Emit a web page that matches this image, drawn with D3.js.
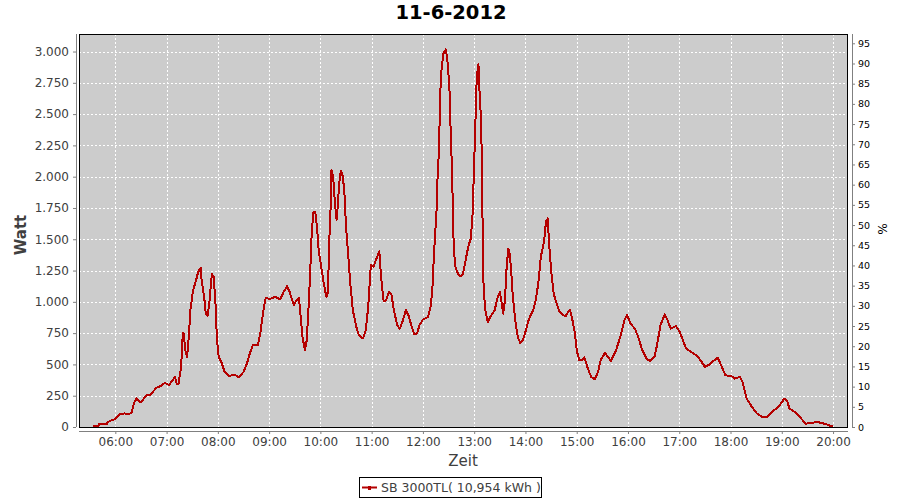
<!DOCTYPE html>
<html>
<head>
<meta charset="utf-8">
<script src="https://cdn.jsdelivr.net/npm/d3@7"></script>
<style>
  html, body { margin: 0; padding: 0; background: #fff; }
  svg { display: block; font-family: "DejaVu Sans", sans-serif; }
</style>
</head>
<body>
<svg id="chart" width="900" height="500"></svg>
<script>
const chartTitle = "11-6-2012";
const seriesName = "SB 3000TL( 10,954 kWh )";
const times = ["05:34","05:40","05:41","05:50","05:51","05:55","06:00","06:05","06:11","06:15","06:19","06:22","06:25","06:30","06:36","06:41","06:48","06:53","06:58","07:03","07:10","07:12","07:14","07:17","07:19","07:20","07:22","07:24","07:26","07:28","07:31","07:34","07:37","07:40","07:41","07:44","07:46","07:48","07:50","07:52","07:53","07:55","07:57","07:59","08:01","08:04","08:08","08:13","08:19","08:25","08:30","08:34","08:38","08:41","08:47","08:50","08:53","08:56","09:01","09:07","09:13","09:17","09:21","09:24","09:29","09:32","09:35","09:37","09:39","09:42","09:44","09:46","09:48","09:50","09:52","09:54","09:56","09:58","10:01","10:04","10:07","10:09","10:10","10:12","10:13","10:15","10:17","10:19","10:20","10:22","10:24","10:26","10:28","10:30","10:33","10:35","10:38","10:42","10:45","10:50","10:53","10:56","10:59","11:02","11:05","11:09","11:11","11:14","11:17","11:20","11:23","11:26","11:30","11:33","11:36","11:40","11:43","11:47","11:50","11:53","11:56","12:00","12:06","12:09","12:11","12:13","12:14","12:16","12:17","12:19","12:20","12:22","12:24","12:27","12:29","12:31","12:32","12:33","12:34","12:35","12:36","12:38","12:41","12:44","12:47","12:50","12:53","12:56","12:58","13:00","13:02","13:03","13:05","13:06","13:08","13:09","13:10","13:11","13:13","13:16","13:20","13:24","13:27","13:30","13:32","13:34","13:36","13:38","13:40","13:41","13:43","13:45","13:48","13:51","13:54","13:57","14:00","14:03","14:06","14:09","14:12","14:15","14:18","14:22","14:24","14:26","14:28","14:30","14:33","14:36","14:40","14:44","14:47","14:52","14:55","14:58","15:00","15:03","15:07","15:09","15:13","15:17","15:21","15:25","15:28","15:33","15:40","15:46","15:51","15:56","15:59","16:03","16:08","16:12","16:16","16:22","16:26","16:31","16:34","16:38","16:43","16:46","16:50","16:56","17:00","17:04","17:08","17:14","17:20","17:25","17:30","17:36","17:40","17:45","17:49","17:54","18:01","18:05","18:11","18:14","18:19","18:25","18:31","18:37","18:43","18:49","18:56","18:59","19:03","19:06","19:09","19:15","19:21","19:28","19:35","19:41","19:47","19:53","19:59","20:00"];
const watts = [5,5,24,24,37,53,64,101,109,101,112,192,229,195,251,259,312,328,352,336,400,341,347,480,752,750,613,560,720,939,1093,1159,1239,1274,1173,1039,899,890,987,1146,1221,1205,1026,693,560,520,440,405,419,397,440,507,600,653,656,760,920,1031,1023,1039,1021,1079,1125,1079,973,1013,1031,879,720,613,693,933,1226,1573,1719,1719,1599,1413,1279,1146,1039,1079,1413,1759,2052,1999,1786,1653,1733,1946,2047,2007,1893,1599,1333,1146,933,800,733,707,773,959,1293,1280,1333,1405,1199,1005,1013,1079,1066,933,813,786,839,933,893,800,739,746,813,859,879,959,1093,1386,1506,1733,1972,2239,2638,2878,2985,3017,2905,2718,2452,2292,2026,1786,1439,1279,1226,1205,1226,1333,1439,1506,1679,2106,2558,2798,2900,2718,2452,2132,1519,1119,933,839,893,933,1026,1079,999,906,1013,1279,1426,1413,1279,1066,853,720,669,693,760,839,893,933,1013,1146,1359,1493,1639,1666,1439,1253,1066,999,919,893,886,939,853,747,613,533,537,555,467,400,381,440,533,592,528,613,720,859,893,826,786,720,627,541,528,560,653,813,901,859,786,806,768,699,627,600,573,533,480,501,528,555,493,413,408,387,400,360,227,160,107,80,80,125,160,187,227,213,147,120,80,27,32,40,32,19,5,0];
const hourTicks = ["06:00","07:00","08:00","09:00","10:00","11:00","12:00","13:00","14:00","15:00","16:00","17:00","18:00","19:00","20:00"];
const wattTicks = [0,250,500,750,1000,1250,1500,1750,2000,2250,2500,2750,3000];
const pctTicks = [0,5,10,15,20,25,30,35,40,45,50,55,60,65,70,75,80,85,90,95];

const toH = s => { const [h, m] = s.split(":").map(Number); return h + m / 60; };
const data = times.map((t, i) => ({ t: toH(t), v: watts[i] }));

const L = 79, R = 848, T = 34, B = 427;
const svg = d3.select("#chart");
const x = d3.scaleLinear().domain([5 + 17.5 / 60, 20 + 17.5 / 60]).range([L, R]);
const y = d3.scaleLinear().domain([0, 3140]).range([B, T]);
const y2 = d3.scaleLinear().domain([0, 97.3]).range([B, T]);
const fmtW = v => d3.format(",")(v).replace(/,/g, ".");

// title
svg.append("text").attr("x", 451).attr("y", 19).attr("text-anchor", "middle")
  .attr("font-size", 19.5).attr("font-weight", "bold").attr("fill", "#000").text(chartTitle);

// plot background
svg.append("rect").attr("x", L).attr("y", T).attr("width", R - L).attr("height", B - T).attr("fill", "#cccccc");

// grid
const grid = svg.append("g").attr("stroke", "#fff").attr("stroke-width", 1).attr("stroke-dasharray", "2,2").attr("shape-rendering", "crispEdges");
grid.selectAll(".gx").data(hourTicks).join("line")
  .attr("x1", d => Math.round(x(toH(d))) + 0.5).attr("x2", d => Math.round(x(toH(d))) + 0.5)
  .attr("y1", T).attr("y2", B);
grid.selectAll(".gy").data(wattTicks).join("line")
  .attr("x1", L).attr("x2", R)
  .attr("y1", d => Math.round(y(d)) + 0.5).attr("y2", d => Math.round(y(d)) + 0.5);

// line
svg.append("path").datum(data)
  .attr("fill", "none").attr("stroke", "#b40000").attr("stroke-width", 2).attr("stroke-linejoin", "round")
  .attr("shape-rendering", "crispEdges")
  .attr("d", d3.line().x(d => x(d.t)).y(d => y(d.v)));

// plot outline
svg.append("rect").attr("x", L + 0.5).attr("y", T + 0.5).attr("width", R - L - 1).attr("height", B - T)
  .attr("fill", "none").attr("stroke", "#000").attr("stroke-width", 1).attr("shape-rendering", "crispEdges");

// left axis
const gl = svg.append("g").attr("transform", `translate(${L - 3},0)`)
  .call(d3.axisLeft(y).tickValues(wattTicks).tickFormat(fmtW).tickSizeInner(3).tickSizeOuter(0).tickPadding(4));
// bottom axis
const gb = svg.append("g").attr("transform", `translate(0,${B + 4})`)
  .call(d3.axisBottom(x).tickValues(hourTicks.map(toH)).tickFormat((d, i) => hourTicks[i]).tickSizeInner(3).tickSizeOuter(0).tickPadding(3));
// right axis
const gr = svg.append("g").attr("transform", `translate(${R + 4},0)`)
  .call(d3.axisRight(y2).tickValues(pctTicks).tickSizeInner(3).tickSizeOuter(0).tickPadding(3));

[gl, gb].forEach(g => {
  g.selectAll("text").attr("font-family", "DejaVu Sans").attr("font-size", 12).attr("fill", "#404040");
});
gr.selectAll("text").attr("font-family", "DejaVu Sans").attr("font-size", 9.5).attr("fill", "#000");
[gl, gb, gr].forEach(g => {
  g.select(".domain").attr("stroke", "#808080").attr("shape-rendering", "crispEdges");
  g.selectAll(".tick line").attr("stroke", "#808080");
});
gl.select(".domain").attr("d", `M0.5,${T}V${B}`);
gr.select(".domain").attr("d", `M0.5,${T}V${B}`);
gb.select(".domain").attr("d", `M${L},0.5H${R}`);

// axis labels
svg.append("text").attr("transform", "translate(26,235) rotate(-90)").attr("text-anchor", "middle")
  .attr("font-size", 15).attr("font-weight", "bold").attr("fill", "#404040").text("Watt");
svg.append("text").attr("x", 463).attr("y", 466).attr("text-anchor", "middle")
  .attr("font-size", 15).attr("fill", "#404040").text("Zeit");
svg.append("text").attr("transform", "translate(878,229) rotate(90)").attr("text-anchor", "middle")
  .attr("font-size", 12).attr("fill", "#000").text("%");

// legend
const lg = svg.append("g");
lg.append("rect").attr("x", 359.5).attr("y", 477.5).attr("width", 182).attr("height", 20)
  .attr("fill", "#fff").attr("stroke", "#000").attr("stroke-width", 1);
lg.append("line").attr("x1", 362).attr("x2", 377).attr("y1", 487.5).attr("y2", 487.5)
  .attr("stroke", "#b40000").attr("stroke-width", 2);
lg.append("rect").attr("x", 368).attr("y", 486).attr("width", 3).attr("height", 4).attr("fill", "#b40000");
lg.append("text").attr("x", 381).attr("y", 492).attr("font-size", 12.5).attr("fill", "#404040").text(seriesName);
</script>
</body>
</html>
